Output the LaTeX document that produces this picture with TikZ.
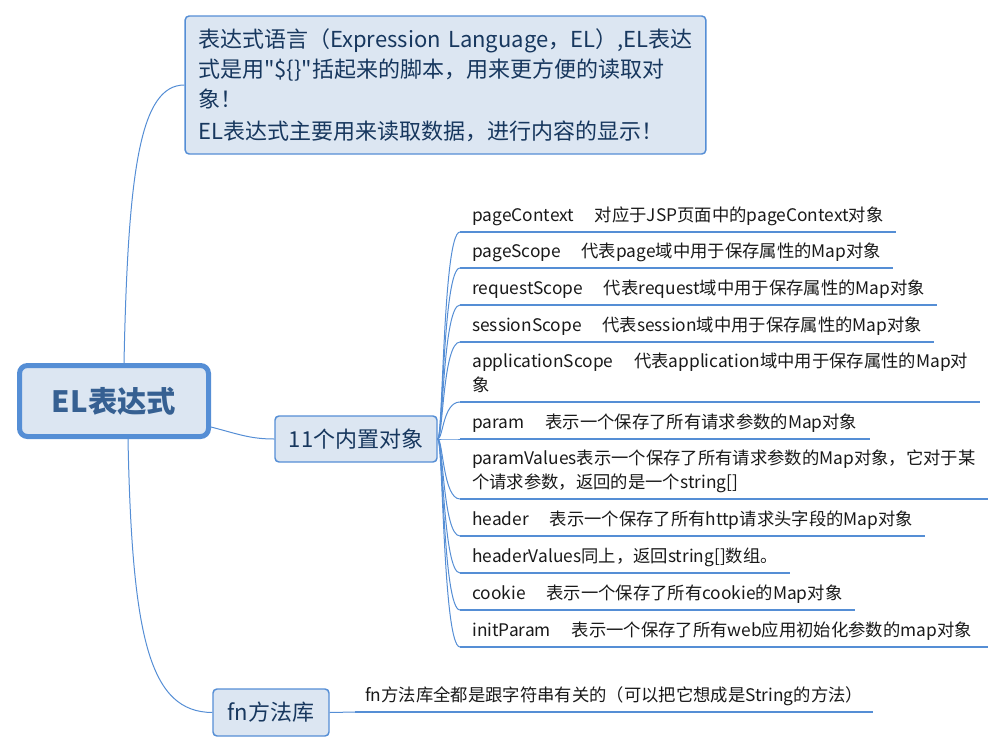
\documentclass[tikz,border=0pt]{standalone}
\usepackage{fontspec}
\setmainfont{Noto Sans CJK SC}[Ligatures=TeXOff]
\definecolor{linkblue}{RGB}{85,142,213}
\definecolor{fillblue}{RGB}{220,230,242}
\definecolor{navytext}{RGB}{23,55,94}
\definecolor{roottext}{RGB}{54,96,146}
\newcommand{\tabgap}{\hspace{1.2em}}

\begin{document}
\begin{tikzpicture}[x=0.75pt,y=-0.75pt,
    topic/.style={draw=linkblue,fill=fillblue,rounded corners=3pt,line width=1.1pt,text=navytext,font=\fontsize{16.5}{22.5}\selectfont},
    leaf/.style={anchor=south west,inner xsep=9pt,inner ysep=2pt,align=left,text=black!90,font=\fontsize{13}{18}\selectfont},
    leafline/.style={draw=linkblue,line width=2.2pt},
    link/.style={draw=linkblue,line width=0.75pt}]
    \useasboundingbox (0,0) rectangle (1001,754);
    % topics
    \node[topic,text width=371pt,align=left,inner xsep=9.75pt,minimum height=103.5pt] (intro) at (445.5,85)
        {表达式语言（Expression Language，EL）,EL表达\\式是用"\$\{\}"括起来的脚本，用来更方便的读取对\\象！\\[1.5pt]EL表达式主要用来读取数据，进行内容的显示！};
    \node[topic,line width=3.75pt,rounded corners=6pt,minimum width=141.75pt,minimum height=53.25pt,text=roottext,font=\fontsize{22}{26}\selectfont\bfseries] (root) at (114,401) {EL表达式};
    \node[topic,minimum width=121.5pt,minimum height=34.5pt] (objs) at (356,439) {11个内置对象};
    \node[topic,minimum width=87pt,minimum height=35.25pt] (fn) at (271,712.5) {fn方法库};
    % built-in objects
    \foreach \nm/\yy/\txt in {
        pc/232/{pageContext\tabgap 对应于JSP页面中的pageContext对象},
        ps/268/{pageScope\tabgap 代表page域中用于保存属性的Map对象},
        rs/305/{requestScope\tabgap 代表request域中用于保存属性的Map对象},
        ss/342/{sessionScope\tabgap 代表session域中用于保存属性的Map对象},
        as/402/{applicationScope\tabgap 代表application域中用于保存属性的Map对\\象},
        pm/439/{param\tabgap 表示一个保存了所有请求参数的Map对象},
        pv/499/{paramValues表示一个保存了所有请求参数的Map对象，它对于某\\个请求参数，返回的是一个string[]},
        hd/536/{header\tabgap 表示一个保存了所有http请求头字段的Map对象},
        hv/573/{headerValues同上，返回string[]数组。},
        ck/610/{cookie\tabgap 表示一个保存了所有cookie的Map对象},
        ip/647/{initParam\tabgap 表示一个保存了所有web应用初始化参数的map对象}
    }{
        \node[leaf] (\nm) at (460,\yy) {\txt\strut};
        \draw[leafline] (\nm.south west) -- (\nm.south east);
        \draw[link] (objs.east) .. controls (443,439) and (443,\yy) .. (\nm.south west);
    }
    \node[leaf,inner xsep=7.5pt] (fnl) at (355,712) {fn方法库全都是跟字符串有关的（可以把它想成是String的方法）\strut};
    \draw[leafline] (fnl.south west) -- (fnl.south east);
    \draw[link] (fn.east) -- (fnl.south west);
    % links from root
    \draw[link] ([xshift=7.5pt]root.north) .. controls (128,170) and (140,85) .. (intro.west);
    \draw[link] ([yshift=-19.5pt]root.east) .. controls (238,434) and (250,439) .. (objs.west);
    \draw[link] ([xshift=10.5pt]root.south) .. controls (132,640) and (150,712) .. (fn.west);
\end{tikzpicture}
\end{document}
